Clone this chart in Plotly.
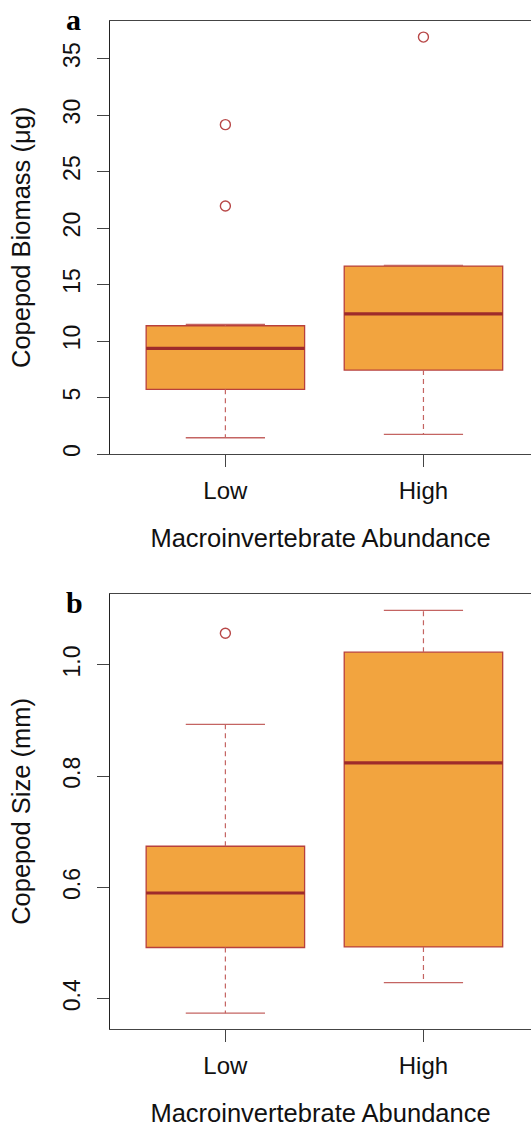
import plotly.graph_objects as go

# Group labels and positions on the category axis
categories = ["Low", "High"]
positions = [1, 2]

# Panel a: copepod biomass (µg) box statistics
biomass_low_whisker = [1.44, 1.74]
biomass_q1 = [5.72, 7.43]
biomass_median = [9.35, 12.41]
biomass_q3 = [11.35, 16.63]
biomass_high_whisker = [11.47, 16.69]
biomass_outliers = [[29.15, 21.95], [36.9]]

# Panel b: copepod size (mm) box statistics
size_low_whisker = [0.374, 0.429]
size_q1 = [0.492, 0.493]
size_median = [0.590, 0.824]
size_q3 = [0.674, 1.023]
size_high_whisker = [0.893, 1.098]
size_outliers = [[1.057], []]

biomass_ticks = [0, 5, 10, 15, 20, 25, 30, 35]
size_ticks = [0.4, 0.6, 0.8, 1.0]

FILL = "#F2A43F"
BORDER = "#B8403C"
MEDIAN = "#9E2B2B"
WHISKER = "#C46462"
OUTLIER = "#B84848"
FRAME = "#444444"
FONT = "Liberation Sans, Arial, sans-serif"

BOX_HALF = 0.4
CAP_HALF = 0.2

fig = go.Figure()


def add_panel(xa, ya, lo, q1, med, q3, hi, outliers):
    for i, x in enumerate(positions):
        # box body (whiskers drawn separately so they can be dashed)
        fig.add_trace(go.Box(
            x=[x], q1=[q1[i]], median=[med[i]], q3=[q3[i]],
            lowerfence=[q1[i]], upperfence=[q3[i]],
            width=2 * BOX_HALF, fillcolor=FILL,
            line=dict(color=BORDER, width=1.3),
            boxpoints=False, showlegend=False, hoverinfo="skip",
            xaxis=xa, yaxis=ya,
        ))
        # thick median bar
        fig.add_trace(go.Scatter(
            x=[x - BOX_HALF, x + BOX_HALF], y=[med[i], med[i]],
            mode="lines", line=dict(color=MEDIAN, width=3.2),
            showlegend=False, hoverinfo="skip", xaxis=xa, yaxis=ya,
        ))
        # dashed whiskers
        for a, b in ((q1[i], lo[i]), (q3[i], hi[i])):
            fig.add_trace(go.Scatter(
                x=[x, x], y=[a, b], mode="lines",
                line=dict(color=WHISKER, width=1.2, dash="5px,4px"),
                showlegend=False, hoverinfo="skip", xaxis=xa, yaxis=ya,
            ))
        # whisker caps
        for v in (lo[i], hi[i]):
            fig.add_trace(go.Scatter(
                x=[x - CAP_HALF, x + CAP_HALF], y=[v, v], mode="lines",
                line=dict(color=WHISKER, width=1.3),
                showlegend=False, hoverinfo="skip", xaxis=xa, yaxis=ya,
            ))
        # outliers
        if outliers[i]:
            fig.add_trace(go.Scatter(
                x=[x] * len(outliers[i]), y=outliers[i], mode="markers",
                marker=dict(symbol="circle-open", size=10,
                            color=OUTLIER, line=dict(width=1.4)),
                showlegend=False, hoverinfo="skip", xaxis=xa, yaxis=ya,
            ))


add_panel("x", "y", biomass_low_whisker, biomass_q1, biomass_median,
          biomass_q3, biomass_high_whisker, biomass_outliers)
add_panel("x2", "y2", size_low_whisker, size_q1, size_median,
          size_q3, size_high_whisker, size_outliers)

W, H = 531, 1128
x_dom = [110 / W, 1.0]
x_range = [0.4175, 2.543]


def xaxis(domain_anchor):
    return dict(
        domain=x_dom, anchor=domain_anchor, range=x_range,
        tickmode="array", tickvals=positions, ticktext=categories,
        ticks="outside", ticklen=12, tickwidth=1, tickcolor=FRAME,
        showline=True, linecolor=FRAME, linewidth=1, mirror=True,
        showgrid=False, zeroline=False, automargin=False,
        ticklabelstandoff=3,
        tickfont=dict(family=FONT, size=24, color="#111"),
        title=dict(text="Macroinvertebrate Abundance", standoff=26,
                   font=dict(family=FONT, size=25.5, color="#111")),
    )


def yaxis(domain, rng, ticks, fmt, title, anchor):
    return dict(
        domain=domain, anchor=anchor, range=rng,
        tickmode="array", tickvals=ticks, tickformat=fmt,
        tickangle=-90, ticks="outside", ticklen=12, tickwidth=1,
        tickcolor=FRAME, showline=True, linecolor="#222", linewidth=1,
        showgrid=False, zeroline=False, automargin=False,
        ticklabelstandoff=8,
        tickfont=dict(family=FONT, size=23, color="#111"),
        title=dict(text=title, standoff=20,
                   font=dict(family=FONT, size=25.5, color="#111")),
    )


fig.update_layout(
    width=W, height=H,
    margin=dict(l=0, r=0, t=0, b=0),
    template="none",
    paper_bgcolor="white", plot_bgcolor="white",
    xaxis=xaxis("y"),
    yaxis=yaxis([1 - 454 / H, 1 - 20.7 / H], [0, 38.35], biomass_ticks,
                "d", "Copepod Biomass (μg)", "x"),
    xaxis2=xaxis("y2"),
    yaxis2=yaxis([1 - 1029 / H, 1 - 594 / H], [0.3455, 1.1275], size_ticks,
                 ".1f", "Copepod Size (mm)", "x2"),
    annotations=[
        dict(text="<b>a</b>", xref="paper", yref="paper",
             x=73 / W, y=1 - 20 / H, xanchor="center", yanchor="middle",
             showarrow=False,
             font=dict(family="Liberation Serif, Times New Roman, serif",
                       size=30, color="black")),
        dict(text="<b>b</b>", xref="paper", yref="paper",
             x=74 / W, y=1 - 602 / H, xanchor="center", yanchor="middle",
             showarrow=False,
             font=dict(family="Liberation Serif, Times New Roman, serif",
                       size=30, color="black")),
    ],
)

fig.write_html("out.html")
